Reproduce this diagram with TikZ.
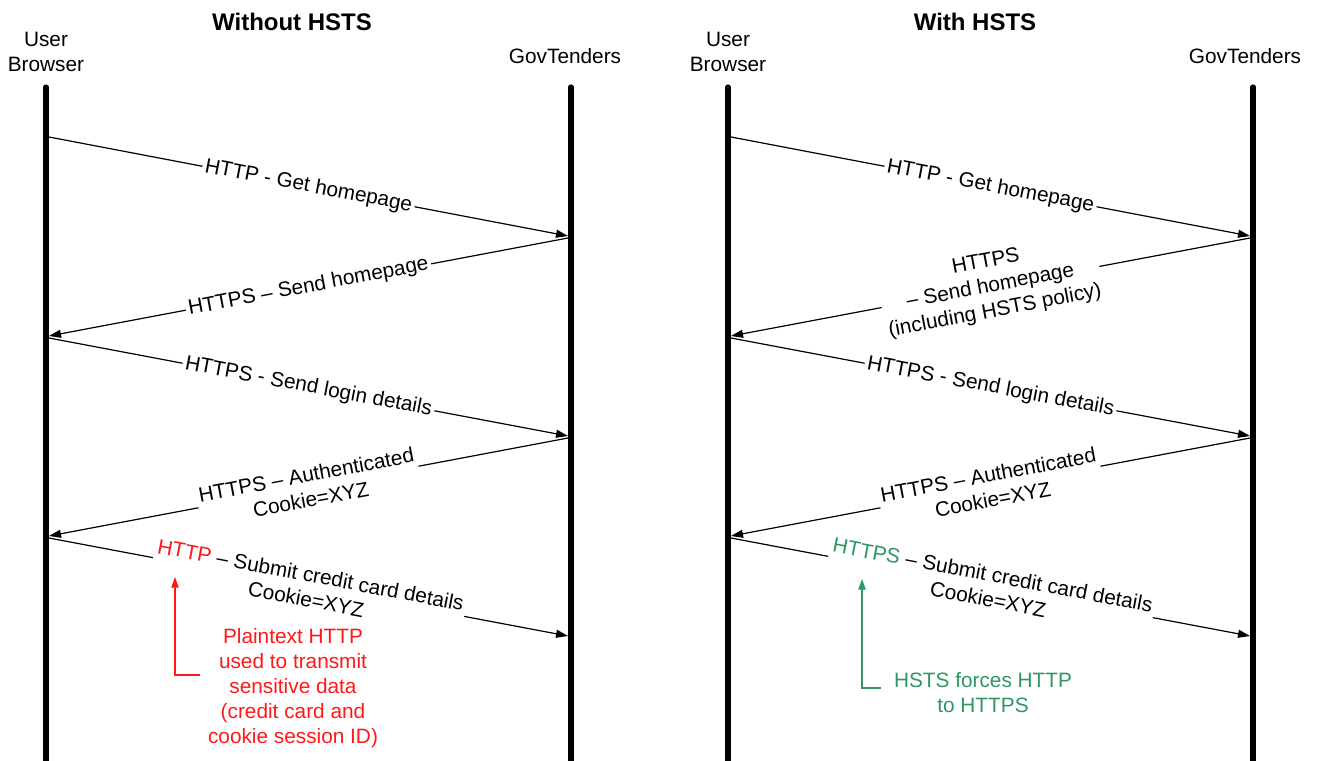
\documentclass[tikz,border=0pt]{standalone}
\usepackage{fontspec}
\setmainfont{Liberation Sans}
\usetikzlibrary{arrows.meta}
\definecolor{alertred}{RGB}{255,24,24}
\definecolor{okgreen}{RGB}{48,150,100}
\begin{document}
\begin{tikzpicture}[x=0.75pt,y=-0.75pt,
  every node/.style={font=\fontsize{15.6}{18.75}\selectfont,inner sep=0pt,align=center},
  heading/.style={font=\fontsize{18}{21}\selectfont\bfseries},
  lifeline/.style={line width=3.8pt,line cap=round},
  msg/.style={line width=0.9pt,-{Triangle[length=9pt,width=6pt]}},
  msglabel/.style={sloped,fill=white,inner sep=2pt},
  note/.style={line width=1pt,-{Triangle[length=8pt,width=5.5pt]}}]
\useasboundingbox (0,0) rectangle (1319,760);

% ---------------- left panel: without HSTS ----------------
\node[heading] (t1) at (292,22) {Without HSTS};
\node (ub1) at (46,52) {User\\Browser};
\node (gt1) at (565,56) {GovTenders};
\coordinate (u1top) at (46,87);  \coordinate (u1bot) at (46,765);
\coordinate (g1top) at (571,87); \coordinate (g1bot) at (571,765);
\draw[lifeline] (u1top) -- (u1bot);
\draw[lifeline] (g1top) -- (g1bot);

\coordinate (u1a) at (49,137); \coordinate (g1a) at (568,236);
\coordinate (g1b) at (568,238); \coordinate (u1b) at (49,336);
\coordinate (u1c) at (49,338); \coordinate (g1c) at (568,436);
\coordinate (g1d) at (568,438); \coordinate (u1d) at (49,536);
\coordinate (u1e) at (49,538); \coordinate (g1e) at (568,636);

\draw[msg] (u1a) -- node[msglabel] {HTTP - Get homepage} (g1a);
\draw[msg] (g1b) -- node[msglabel] {HTTPS -- Send homepage} (u1b);
\draw[msg] (u1c) -- node[msglabel] {HTTPS - Send login details} (g1c);
\draw[msg] (g1d) -- node[msglabel] {HTTPS -- Authenticated\\Cookie=XYZ} (u1d);
\draw[msg] (u1e) -- node[msglabel] (m1e) {\textcolor{alertred}{HTTP} -- Submit credit card details\\Cookie=XYZ} (g1e);

\node[text=alertred] (n1) at (293,688)
  {Plaintext HTTP\\used to transmit\\sensitive data\\(credit card and\\cookie session ID)};
\coordinate (n1tail) at (200,675);
\coordinate (n1corner) at (175,675);
\coordinate (n1tip) at (175,577);
\draw[note,alertred] (n1tail) -- (n1corner) -- (n1tip);

% ---------------- right panel: with HSTS ----------------
\node[heading] (t2) at (975,22) {With HSTS};
\node (ub2) at (728,52) {User\\Browser};
\node (gt2) at (1245,56) {GovTenders};
\coordinate (u2top) at (728,87);  \coordinate (u2bot) at (728,765);
\coordinate (g2top) at (1253,87); \coordinate (g2bot) at (1253,765);
\draw[lifeline] (u2top) -- (u2bot);
\draw[lifeline] (g2top) -- (g2bot);

\coordinate (u2a) at (731,137); \coordinate (g2a) at (1250,236);
\coordinate (g2b) at (1250,238); \coordinate (u2b) at (731,336);
\coordinate (u2c) at (731,338); \coordinate (g2c) at (1250,436);
\coordinate (g2d) at (1250,438); \coordinate (u2d) at (731,536);
\coordinate (u2e) at (731,538); \coordinate (g2e) at (1250,636);

\draw[msg] (u2a) -- node[msglabel] {HTTP - Get homepage} (g2a);
\draw[msg] (g2b) -- node[msglabel] {HTTPS\\-- Send homepage\\(including HSTS policy)} (u2b);
\draw[msg] (u2c) -- node[msglabel] {HTTPS - Send login details} (g2c);
\draw[msg] (g2d) -- node[msglabel] {HTTPS -- Authenticated\\Cookie=XYZ} (u2d);
\draw[msg] (u2e) -- node[msglabel] (m2e) {\textcolor{okgreen}{HTTPS} -- Submit credit card details\\Cookie=XYZ} (g2e);

\node[text=okgreen] (n2) at (983,693) {HSTS forces HTTP\\to HTTPS};
\coordinate (n2tail) at (881,688);
\coordinate (n2corner) at (862,688);
\coordinate (n2tip) at (862,579);
\draw[note,okgreen] (n2tail) -- (n2corner) -- (n2tip);
\end{tikzpicture}
\end{document}
